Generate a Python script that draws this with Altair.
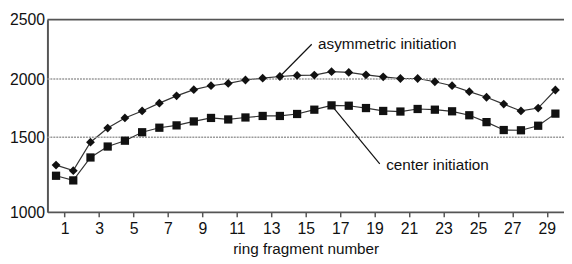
import altair as alt
import pandas as pd

# ---- data ----
fragments = [k - 0.5 for k in range(1, 31)]  # point k sits between tick k-1 and k
asymmetric = [1314, 1277, 1467, 1579, 1666, 1726, 1793, 1856, 1909, 1943,
              1963, 1992, 2008, 2022, 2031, 2034, 2062, 2056, 2036, 2019,
              2005, 2005, 1977, 1943, 1892, 1844, 1785, 1726, 1751, 1906]
center = [1243, 1212, 1365, 1438, 1477, 1543, 1582, 1602, 1636, 1666,
          1653, 1670, 1683, 1683, 1700, 1737, 1774, 1771, 1751, 1726,
          1721, 1743, 1737, 1723, 1689, 1630, 1562, 1560, 1599, 1703]
x_ticks = list(range(1, 30, 2))
y_ticks = [1000, 1500, 2000, 2500]
grid_values = [1500, 2000]
top_value = [2500]

# annotation anchors (data coordinates)
ann_text = ["asymmetric initiation", "center initiation"]
ann_tx = [15.72, 19.67]
ann_ty = [2293, 1316]
lead_x1 = [13.5, 16.5]
lead_y1 = [2022, 1774]
lead_x2 = [15.35, 19.3]
lead_y2 = [2293, 1323]

FONT = "Liberation Sans"
W, H = 524, 195

df_a = pd.DataFrame({"x": fragments, "y": asymmetric})
df_c = pd.DataFrame({"x": fragments, "y": center})
df_grid = pd.DataFrame({"y": grid_values})
df_top = pd.DataFrame({"y": top_value})
df_ann = pd.DataFrame({"x": ann_tx, "y": ann_ty, "t": ann_text})
df_lead = pd.DataFrame({"x": lead_x1, "y": lead_y1, "x2": lead_x2, "y2": lead_y2})

xs = alt.Scale(domain=[0, 30], nice=False, zero=False)
ys = alt.Scale(domain=y_ticks, range=[195.3, 119.3, 60.3, 0], nice=False, zero=False)

x_axis = alt.Axis(
    values=x_ticks, format="d", title="ring fragment number", grid=False,
    labelOverlap=False, labelFlush=False,
    tickSize=5, tickColor="#555", tickWidth=1.5,
    labelFont=FONT, labelFontSize=16, labelColor="#111", labelPadding=4,
    titleFont=FONT, titleFontSize=15.5, titleFontWeight="normal", titleColor="#111",
    titlePadding=5, domainColor="#555", domainWidth=2)
y_axis = alt.Axis(
    values=y_ticks, format="d", title=None, grid=False, ticks=False,
    labelOverlap=False, labelFlush=False,
    labelFont=FONT, labelFontSize=16, labelColor="#111", labelPadding=3,
    domainColor="#555", domainWidth=2)

X = alt.X("x:Q", scale=xs, axis=x_axis)
Y = alt.Y("y:Q", scale=ys, axis=y_axis)

grid = alt.Chart(df_grid).mark_rule(color="#9a9a9a", strokeWidth=1.5, strokeDash=[2, 1]).encode(y=Y)
top = alt.Chart(df_top).mark_rule(color="#555", strokeWidth=2).encode(y=Y)

line_a = alt.Chart(df_a).mark_line(color="#333", strokeWidth=1.2).encode(x=X, y=Y)
pts_a = alt.Chart(df_a).mark_point(shape="diamond", filled=True, color="#111", size=80, opacity=1).encode(x=X, y=Y)
line_c = alt.Chart(df_c).mark_line(color="#333", strokeWidth=1.2).encode(x=X, y=Y)
pts_c = alt.Chart(df_c).mark_point(shape="square", filled=True, color="#111", size=70, opacity=1).encode(x=X, y=Y)

leads = alt.Chart(df_lead).mark_rule(color="#111", strokeWidth=1.2).encode(x=X, y=Y, x2="x2:Q", y2="y2:Q")
texts = alt.Chart(df_ann).mark_text(font=FONT, fontSize=15.5, align="left", baseline="middle", color="#111").encode(
    x=X, y=Y, text="t:N")

chart = alt.layer(line_a, grid, top, line_c, pts_c, pts_a, leads, texts).properties(
    width=W, height=H,
    autosize=alt.AutoSizeParams(type="none"),
    padding={"left": 40, "top": 10, "right": 0, "bottom": 46},
).configure_view(stroke=None).configure_axis(labelOverlap=False)

chart.save("out.html", embed_options={"renderer": "svg", "actions": False})
